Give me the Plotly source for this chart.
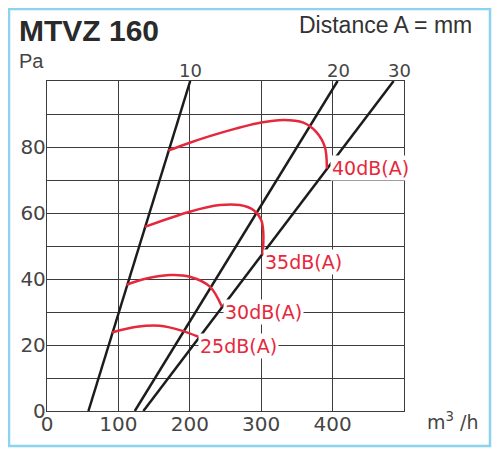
import plotly.graph_objects as go

# system lines, distance A in mm: flow (m3/h) where each line meets 0 Pa and 100 Pa
dist_labels = ["10", "20", "30"]
flow_at_0pa = [58, 123, 135]
flow_at_100pa = [200.6, 407, 485.5]
dist_label_shift = [0, 1, 6]

# sound level curves (m3/h, Pa)
db40_q = [170, 200, 242, 300, 331, 359, 377, 389, 392]
db40_p = [78.9, 81.3, 84.2, 87.4, 88.2, 87.4, 84.6, 80.1, 73.5]
db35_q = [137, 200, 242, 270, 289, 300, 303, 302]
db35_p = [55.8, 60.4, 62.4, 62.4, 60.9, 57.9, 53.8, 47.3]
db30_q = [111, 135, 172, 200, 228, 245]
db30_p = [38.2, 39.9, 41.2, 40.7, 37.7, 31.6]
db25_q = [91, 126, 158, 186, 212]
db25_p = [23.8, 25.5, 25.8, 24.5, 22.5]

db_labels = ["40dB(A)", "35dB(A)", "30dB(A)", "25dB(A)"]
db_label_q = [397, 302, 246, 211]
db_label_p = [73.6, 45.2, 30, 19.7]

x_ticks = [0, 100, 200, 300, 400]
y_ticks = [0, 20, 40, 60, 80]
y_minor = [10, 30, 50, 70, 90]

RED = "#e6283c"
BLACK = "#1c1c1c"
GRID = "#3c3c3c"
TEXT = "#454545"

# the page puts the figure 8px in from the top left corner
OFF = 8
W, H = 500 - OFF, 456 - OFF
L, R, T, B = 47 - OFF, 96, 81 - OFF, 45


def px(x):
    return (x - OFF - L) / (W - L - R)


def py(y):
    return (H - B - (y - OFF)) / (H - T - B)


fig = go.Figure()

for i in range(len(dist_labels)):
    fig.add_trace(go.Scatter(
        x=[flow_at_0pa[i], flow_at_100pa[i]], y=[0, 100],
        mode="lines", line=dict(color=BLACK, width=2.5),
        hoverinfo="skip"))
    fig.add_annotation(
        x=flow_at_100pa[i], y=100, text=dist_labels[i], showarrow=False,
        xanchor="center", yanchor="bottom", xshift=dist_label_shift[i], yshift=-2,
        font=dict(size=18, color=TEXT))

for q, p in [(db40_q, db40_p), (db35_q, db35_p), (db30_q, db30_p), (db25_q, db25_p)]:
    fig.add_trace(go.Scatter(
        x=q, y=p, mode="lines",
        line=dict(color=RED, width=2.5, shape="spline", smoothing=1.0),
        hoverinfo="skip"))

for i in range(len(db_labels)):
    fig.add_annotation(
        x=db_label_q[i], y=db_label_p[i], text=db_labels[i], showarrow=False,
        xanchor="left", yanchor="middle", bgcolor="white", borderpad=1,
        font=dict(size=19, color=RED))

fig.add_annotation(xref="paper", yref="paper", x=px(17), y=py(30),
                   text="<b>MTVZ 160</b>", showarrow=False,
                   xanchor="left", yanchor="middle",
                   font=dict(size=30, color="#2a2a2a", family="Liberation Sans"))
fig.add_annotation(xref="paper", yref="paper", x=px(17), y=py(61),
                   text="Pa", showarrow=False, xanchor="left", yanchor="middle",
                   font=dict(size=20, color=TEXT, family="Liberation Sans"))
fig.add_annotation(xref="paper", yref="paper", x=px(474), y=py(25),
                   text="Distance A = mm", showarrow=False,
                   xanchor="right", yanchor="middle",
                   font=dict(size=23, color="#333333", family="Liberation Sans"))
fig.add_annotation(xref="paper", yref="paper", x=px(425), y=py(421),
                   text="m<sup>3</sup> /h", showarrow=False,
                   xanchor="left", yanchor="middle",
                   font=dict(size=19, color=TEXT))

# light blue frame around the whole card
fig.add_shape(type="rect", xref="paper", yref="paper",
              x0=px(9), x1=px(490), y0=py(446), y1=py(9),
              line=dict(color="#8ad4f0", width=2.5))

fig.update_xaxes(range=[0, 500], tickvals=x_ticks, ticks="",
                 showgrid=True, gridcolor=GRID, gridwidth=1.3,
                 showline=True, mirror=True, linecolor=GRID, linewidth=1.3,
                 zeroline=False, tickfont=dict(size=20, color=TEXT),
                 ticklabelstandoff=-5)
fig.update_yaxes(range=[0, 100], tickvals=y_ticks, ticks="",
                 showgrid=True, gridcolor=GRID, gridwidth=1.3,
                 minor=dict(tickmode="array", tickvals=y_minor, showgrid=True,
                            gridcolor=GRID, gridwidth=1.3, ticks=""),
                 showline=True, mirror=True, linecolor=GRID, linewidth=1.3,
                 zeroline=False, tickfont=dict(size=20, color=TEXT),
                 ticklabelstandoff=-4)

fig.update_layout(
    width=W, height=H,
    margin=dict(l=L, r=R, t=T, b=B),
    paper_bgcolor="white", plot_bgcolor="white",
    showlegend=False,
    font=dict(family="DejaVu Sans", color=TEXT),
)

fig.write_html("out.html")
